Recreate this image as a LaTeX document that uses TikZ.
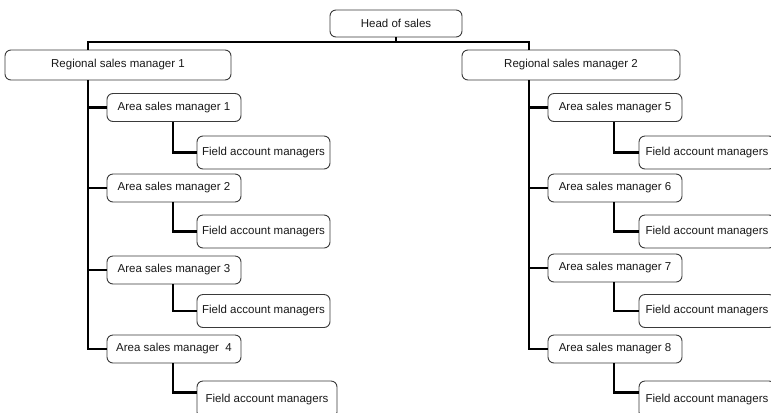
\documentclass[tikz,border=0pt]{standalone}
\usepackage{fontspec}
\setmainfont{Liberation Sans}
\begin{document}
\begin{tikzpicture}[x=1bp,y=-1bp,
  box/.style={draw=boxgray, line width=0.9bp, rounded corners=6bp, fill=white,
    inner sep=0pt, align=center, text=black!90,
    font=\fontsize{11.5bp}{13bp}\selectfont},
  areabox/.style={box, minimum width=134bp, minimum height=28bp},
  fieldbox/.style={box, minimum width=133bp, minimum height=33bp},
  conn/.style={draw=black, line width=2.8bp}]
\definecolor{boxgray}{HTML}{3A3A3A}
\useasboundingbox (0,0) rectangle (771,412);
\fill[white] (0,0) rectangle (771,412);
\clip (0,0) rectangle (771,412);

% top level
\node[box, minimum width=132bp, minimum height=27bp] (head) at (396,23.5) {Head of sales};
\node[box, minimum width=226bp, minimum height=30bp] (reg1) at (118,65) {Regional sales manager 1};
\node[box, minimum width=218bp, minimum height=30bp] (reg2) at (571,65) {Regional sales manager 2};

% left branch
\node[areabox] (a1) at (174,107.5) {Area sales manager 1};
\node[areabox] (a2) at (174,188) {Area sales manager 2};
\node[areabox] (a3) at (174,270) {Area sales manager 3};
\node[areabox] (a4) at (174,349) {Area sales manager\ \ 4};
\node[fieldbox] (f1) at (263.5,152.5) {Field account managers};
\node[fieldbox] (f2) at (263.5,231.5) {Field account managers};
\node[fieldbox] (f3) at (263.5,311) {Field account managers};
\node[fieldbox, minimum width=140bp, minimum height=37bp] (f4) at (267,399.5) {Field account managers};

% right branch
\node[areabox] (a5) at (615,107.5) {Area sales manager 5};
\node[areabox] (a6) at (615,188) {Area sales manager 6};
\node[areabox] (a7) at (615,268) {Area sales manager 7};
\node[areabox] (a8) at (615,349) {Area sales manager 8};
\node[fieldbox, minimum width=136bp] (f5) at (707,152.5) {Field account managers};
\node[fieldbox, minimum width=136bp] (f6) at (707,231.5) {Field account managers};
\node[fieldbox, minimum width=136bp] (f7) at (707,311) {Field account managers};
\node[fieldbox, minimum width=136bp, minimum height=37bp] (f8) at (707,399.5) {Field account managers};

% connectors
\coordinate (hb) at (396,42);
\coordinate (t1) at (88,80);
\coordinate (t2) at (529,80);
\draw[conn] (head.south) -- (hb);
\draw[conn] (reg1.north -| t1) |- (hb) -| (reg2.north -| t2);

\draw[conn] (t1) |- (a4.west);
\foreach \a in {a1,a2,a3} \draw[conn] (t1 |- \a.west) -- (\a.west);
\draw[conn] (t2) |- (a8.west);
\foreach \a in {a5,a6,a7} \draw[conn] (t2 |- \a.west) -- (\a.west);

\foreach \a/\f in {a1/f1,a2/f2,a3/f3,a5/f5,a6/f6,a7/f7}
  \draw[conn] ([xshift=-1bp]\a.south) |- (\f.west);
\draw[conn] ([xshift=-1bp]a4.south) |- ([yshift=7bp]f4.west);
\draw[conn] ([xshift=-1bp]a8.south) |- ([yshift=7bp]f8.west);
\end{tikzpicture}
\end{document}
